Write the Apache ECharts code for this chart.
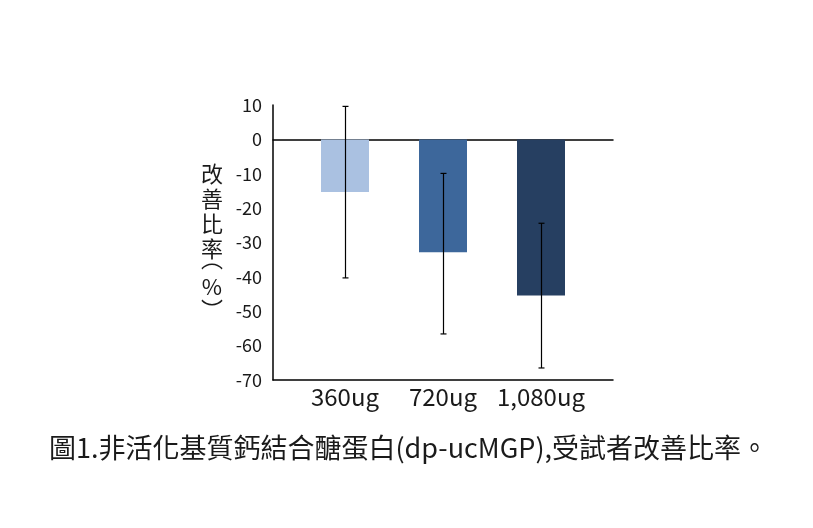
<!DOCTYPE html>
<html>
<head>
<meta charset="utf-8">
<style>
    html, body { margin: 0; padding: 0; background: #fff; }
    #chart { width: 813px; height: 528px; }
</style>
<script src="https://cdn.jsdelivr.net/npm/echarts@6/dist/echarts.min.js"></script>
</head>
<body>
<div id="chart"></div>
<script>
    // 劑量組別
    const categories = ['360ug', '720ug', '1,080ug'];
    // 平均改善比率 (%)
    const meanValues = [-15.3, -32.8, -45.4];
    // 誤差線上下界
    const errHigh = [9.6, -9.9, -24.4];
    const errLow = [-40.3, -56.6, -66.5];
    const barColors = ['#aac1e1', '#3d679b', '#263f61'];
    const yTicks = { min: -70, max: 10, interval: 10 };

    const FONT = '"Noto Sans CJK TC", "Noto Sans", sans-serif';
    const TEXT = '#1a1a1a';
    const myChart = echarts.init(document.getElementById('chart'));

    const option = {
        animation: false,
        title: {
            text: '圖1.非活化基質鈣結合醣蛋白(dp-ucMGP),受試者改善比率。',
            left: 44,
            top: 429,
            textStyle: { fontFamily: FONT, fontSize: 27, fontWeight: 'normal', color: TEXT }
        },
        graphic: [{
            // 縱軸名稱（直排）
            type: 'text',
            x: 212, y: 161,
            style: { text: '改\n善\n比\n率', font: '22px ' + FONT, lineHeight: 25, fill: TEXT, align: 'center' }
        }, {
            type: 'text',
            x: 212, y: 259,
            style: { text: '︵', font: '22px ' + FONT, fill: TEXT, align: 'center', verticalAlign: 'middle' }
        }, {
            type: 'text',
            x: 212, y: 287,
            style: { text: '%', font: '22px ' + FONT, fill: TEXT, align: 'center', verticalAlign: 'middle' }
        }, {
            type: 'text',
            x: 212, y: 310,
            style: { text: '︶', font: '22px ' + FONT, fill: TEXT, align: 'center', verticalAlign: 'middle' }
        }],
        grid: [
            { left: 273, right: 200, top: 105, bottom: 148 },   // 座標軸
            { left: 296, right: 223, top: 105, bottom: 148 }    // 長條
        ],
        xAxis: [{
            gridIndex: 0, type: 'value', min: 0, max: 1, position: 'bottom',
            axisLine: { onZero: false, lineStyle: { color: '#000', width: 1.5 } },
            axisTick: { show: false }, axisLabel: { show: false }, splitLine: { show: false }
        }, {
            gridIndex: 0, type: 'value', min: 0, max: 1, position: 'top',
            axisLine: { onZero: true, lineStyle: { color: '#000', width: 1.5 } },
            axisTick: { show: false }, axisLabel: { show: false }, splitLine: { show: false }
        }, {
            gridIndex: 1, type: 'category', data: categories,
            axisLine: { show: false }, axisTick: { show: false },
            axisLabel: { interval: 0, margin: 5, fontFamily: FONT, fontSize: 24, color: TEXT }
        }],
        yAxis: [{
            gridIndex: 0, type: 'value', min: yTicks.min, max: yTicks.max, interval: yTicks.interval,
            axisLine: { show: true, lineStyle: { color: '#000', width: 1.5 } },
            axisTick: { show: false }, splitLine: { show: false },
            axisLabel: { margin: 11, fontFamily: FONT, fontSize: 18, color: TEXT }
        }, {
            gridIndex: 1, type: 'value', min: yTicks.min, max: yTicks.max, interval: yTicks.interval,
            show: false
        }],
        series: [{
            type: 'bar',
            xAxisIndex: 2,
            yAxisIndex: 1,
            barWidth: 48,
            data: meanValues.map((v, i) => ({ value: v, itemStyle: { color: barColors[i] } }))
        }, {
            type: 'custom',
            xAxisIndex: 2,
            yAxisIndex: 1,
            z: 10,
            data: categories.map((c, i) => [i, errLow[i], errHigh[i]]),
            renderItem(params, api) {
                const top = api.coord([api.value(0), api.value(2)]);
                const bot = api.coord([api.value(0), api.value(1)]);
                const x = Math.round(top[0]) + 0.5;
                const cap = 3;
                const style = { stroke: '#000', lineWidth: 1.2 };
                return {
                    type: 'group',
                    children: [
                        { type: 'line', shape: { x1: x, y1: top[1], x2: x, y2: bot[1] }, style },
                        { type: 'line', shape: { x1: x - cap, y1: top[1], x2: x + cap, y2: top[1] }, style },
                        { type: 'line', shape: { x1: x - cap, y1: bot[1], x2: x + cap, y2: bot[1] }, style }
                    ]
                };
            }
        }]
    };

    myChart.setOption(option);
</script>
</body>
</html>
